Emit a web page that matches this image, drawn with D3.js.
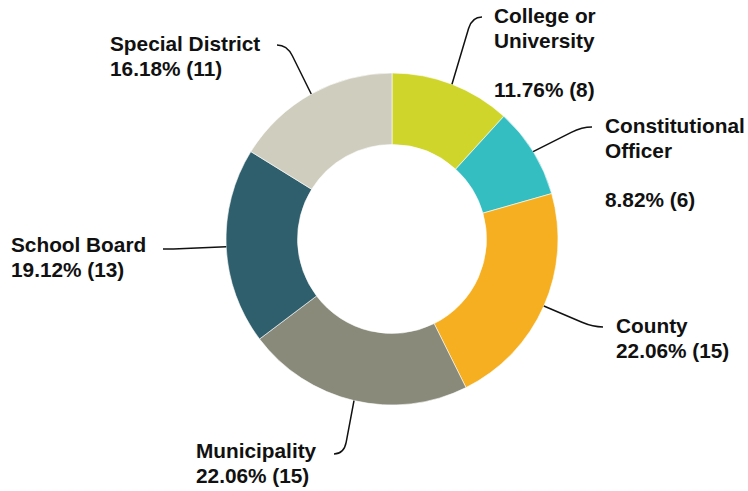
<!DOCTYPE html>
<html>
<head>
<meta charset="utf-8">
<script src="https://cdn.jsdelivr.net/npm/d3@7"></script>
<style>
  html, body { margin: 0; padding: 0; background: #fff; }
  svg { display: block; }
  text { font-family: "Liberation Sans", Arial, Helvetica, sans-serif; font-weight: bold; font-size: 20.8px; fill: #111; }
</style>
</head>
<body>
<svg id="chart" width="748" height="491"></svg>
<script>
// Entity types and their counts, clockwise from 12 o'clock
const categories = ["College or University", "Constitutional Officer", "County", "Municipality", "School Board", "Special District"];
const counts = [8, 6, 15, 15, 13, 11];
const colors = ["#cfd52b", "#35bec1", "#f6af20", "#898a79", "#2f5f6c", "#cfcdbe"];
// Name lines for each label (an empty string leaves a blank line before the value)
const nameLines = [["College or", "University", ""], ["Constitutional", "Officer", ""], ["County"], ["Municipality"], ["School Board"], ["Special District"]];

// Label placement: end of leader line and text origin
const labelLayout = [
  { end: [482, 17], text: [494, 23], side: 1 },
  { end: [592, 127], text: [605, 133], side: 1 },
  { end: [603, 327], text: [616, 333], side: 1 },
  { end: [334, 454], text: [196, 458], side: -1 },
  { end: [163, 249], text: [11, 252], side: -1 },
  { end: [277, 45], text: [110, 51], side: -1 }
];

const cx = 392, cy = 239, outerR = 166, innerR = 94.5, lineH = 24.5;

const svg = d3.select("#chart");
const g = svg.append("g").attr("transform", `translate(${cx},${cy})`);

const total = d3.sum(counts);
const data = categories.map((c, i) => ({ name: c, value: counts[i], color: colors[i], lines: nameLines[i], layout: labelLayout[i] }));

const pie = d3.pie().value(d => d.value).sort(null);
const arc = d3.arc().innerRadius(innerR).outerRadius(outerR);
const arcs = pie(data);

g.selectAll("path.slice")
  .data(arcs)
  .join("path")
  .attr("class", "slice")
  .attr("d", arc)
  .attr("fill", d => d.data.color)
  .attr("stroke", "#ffffff")
  .attr("stroke-width", 0.6);

// Leader lines: from the slice's outer midpoint, then a rounded turn into a short horizontal tail
const fmt = d3.format(".2f");
arcs.forEach(a => {
  const mid = (a.startAngle + a.endAngle) / 2;
  const ax = cx + outerR * Math.sin(mid);
  const ay = cy - outerR * Math.cos(mid);
  const [ex, ey] = a.data.layout.end;
  const side = a.data.layout.side;
  const bx = ex - side * 10, by = ey; // corner where the line turns horizontal
  const dx = bx - ax, dy = by - ay, len = Math.hypot(dx, dy);
  const t = Math.max(0, 1 - 12 / len);
  const px = ax + dx * t, py = ay + dy * t;
  const p = d3.path();
  p.moveTo(ax, ay);
  p.lineTo(px, py);
  p.quadraticCurveTo(bx, by, ex, ey);
  svg.append("path")
    .attr("d", p.toString())
    .attr("fill", "none")
    .attr("stroke", "#111")
    .attr("stroke-width", 1.5);

  const lines = a.data.lines.concat([`${fmt(a.data.value / total * 100)}% (${a.data.value})`]);
  const [tx, ty] = a.data.layout.text;
  const txt = svg.append("text").attr("x", tx).attr("y", ty);
  lines.forEach((l, i) => {
    txt.append("tspan").attr("x", tx).attr("y", ty + i * lineH).text(l);
  });
});
</script>
</body>
</html>
